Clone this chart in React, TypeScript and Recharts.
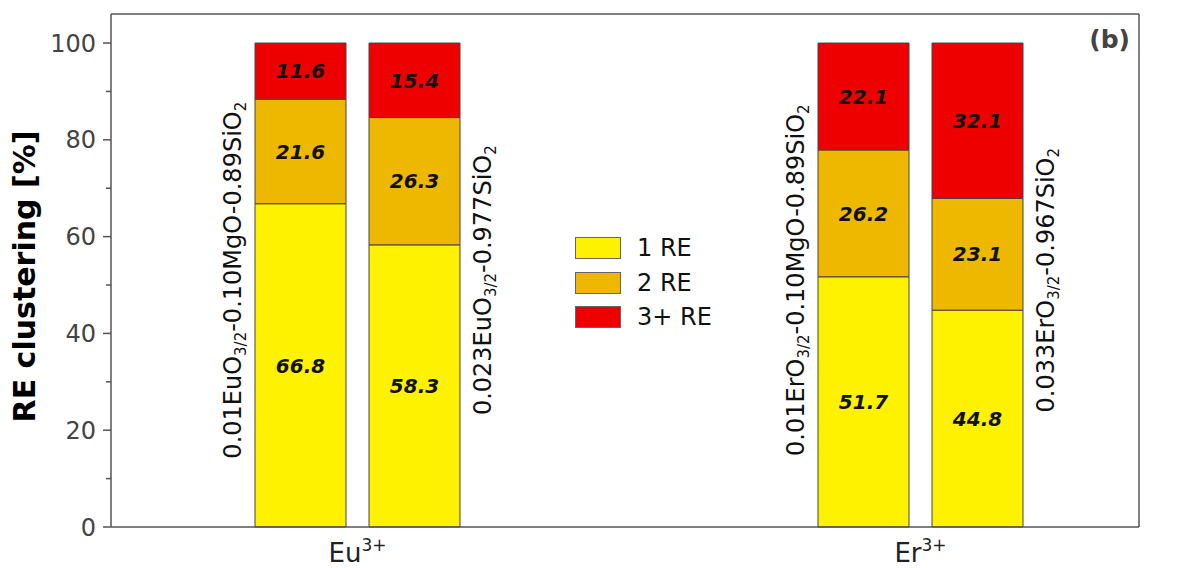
import { BarChart, Bar, XAxis, YAxis, LabelList, Legend, ReferenceLine } from "recharts";

// groups on the x axis and which group each sample belongs to
const groupNames = ["Eu", "Er"];
const groupCharge = "3+";
const sampleGroup = [0, 0, 1, 1];

// sample compositions: plain / subscript / plain / subscript
const sampleLabels = [
  ["0.01EuO", "3/2", "-0.10MgO-0.89SiO", "2"],
  ["0.023EuO", "3/2", "-0.977SiO", "2"],
  ["0.01ErO", "3/2", "-0.10MgO-0.89SiO", "2"],
  ["0.033ErO", "3/2", "-0.967SiO", "2"],
];

// cluster fractions [%] per sample
const oneRE = [66.8, 58.3, 51.7, 44.8];
const twoRE = [21.6, 26.3, 26.2, 23.1];
const threeRE = [11.6, 15.4, 22.1, 32.1];
const seriesNames = ["1 RE", "2 RE", "3+ RE"];

const yTicks = [0, 10, 20, 30, 40, 50, 60, 70, 80, 90, 100];

const COLORS = ["#fff200", "#efb800", "#ee0000"];
const FONT = "'DejaVu Sans', sans-serif";
const AXIS = "#555";
const Y_MAX = 106;
const LABEL_MID = 51; // where the rotated sample names are centred (axis units)
const TICK_SIZE = 8;
const TICK_MARGIN = 7;

const series = [oneRE, twoRE, threeRE];

// one row per group; the two samples of a group go into stacks s0 and s1
const rows = groupNames.map((g, gi) => {
  const row: Record<string, any> = { group: g };
  let slot = 0;
  sampleGroup.forEach((sg, i) => {
    if (sg !== gi) return;
    series.forEach((vals, j) => {
      row[`s${slot}_${j}`] = vals[i];
    });
    row[`sample${slot}`] = i;
    slot++;
  });
  return row;
});

const LeftTick = (p: any) => {
  const { x, y, payload } = p;
  const ax = x + TICK_SIZE + TICK_MARGIN;
  const major = payload.value % 20 === 0;
  return (
    <g>
      <line x1={ax - (major ? TICK_SIZE : 5)} x2={ax} y1={y} y2={y} stroke={AXIS} strokeWidth={1.5} />
      {major && (
        <text x={x} y={y} dy="0.36em" textAnchor="end" fill="#444" fontSize={24} fontFamily={FONT}>
          {payload.value}
        </text>
      )}
    </g>
  );
};

const RightTick = (p: any) => {
  const { x, y, payload } = p;
  const ax = x - TICK_SIZE - TICK_MARGIN;
  const major = payload.value % 20 === 0;
  return (
    <g>
      <line x1={ax} x2={ax + (major ? TICK_SIZE : 5)} y1={y} y2={y} stroke={AXIS} strokeWidth={1.5} />
      {major && (
        <text x={x} y={y} dy="0.36em" textAnchor="start" fill="#444" fontSize={24} fontFamily={FONT}>
          {payload.value}
        </text>
      )}
    </g>
  );
};

const GroupTick = (p: any) => {
  const { x, y, payload } = p;
  return (
    <text x={x} y={y + 35} textAnchor="middle" fill="#222" fontSize={26} fontFamily={FONT}>
      {payload.value}
      <tspan dy={-11} fontSize={17}>
        {groupCharge}
      </tspan>
    </text>
  );
};

const renderValue = (p: any) => {
  const { x, y, width, height, value } = p;
  if (value == null) return null;
  return (
    <text
      x={x + width / 2}
      y={y + height / 2}
      dy="0.36em"
      textAnchor="middle"
      fill="#111"
      fontSize={20}
      fontWeight="bold"
      fontStyle="italic"
      fontFamily={FONT}
    >
      {Number(value).toFixed(1)}
    </text>
  );
};

const renderSample = (slot: number) => (p: any) => {
  const { x, y, width, height, index } = p;
  const row = rows[index];
  const idx = row[`sample${slot}`];
  const segVal = row[`s${slot}_0`];
  const bottom = y + height;
  const cy = bottom - (LABEL_MID * height) / segVal;
  const bx = slot === 0 ? x - 14 : x + width + 31;
  const parts = sampleLabels[idx];
  return (
    <text
      x={bx}
      y={cy}
      transform={`rotate(-90, ${bx}, ${cy})`}
      textAnchor="middle"
      fill="#111"
      fontSize={24}
      fontFamily={FONT}
    >
      <tspan>{parts[0]}</tspan>
      <tspan dy={5} fontSize={15}>
        {parts[1]}
      </tspan>
      <tspan dy={-5}>{parts[2]}</tspan>
      <tspan dy={5} fontSize={15}>
        {parts[3]}
      </tspan>
    </text>
  );
};

const renderTitle = (p: any) => {
  const vb = p.viewBox;
  const cx = vb.x + 35;
  const cy = vb.y + vb.height / 2 + 6;
  return (
    <text
      x={cx}
      y={cy}
      transform={`rotate(-90, ${cx}, ${cy})`}
      textAnchor="middle"
      fill="#000"
      fontSize={30}
      fontWeight="bold"
      fontFamily={FONT}
    >
      RE clustering [%]
    </text>
  );
};

const renderPanel = (p: any) => {
  const vb = p.viewBox;
  return (
    <text
      x={vb.x + vb.width - 9}
      y={vb.y + 34}
      textAnchor="end"
      fill="#444"
      fontSize={25}
      fontWeight="bold"
      fontFamily={FONT}
    >
      (b)
    </text>
  );
};

const renderLegend = () => (
  <div style={{ fontFamily: FONT, fontSize: 24, color: "#111" }}>
    {seriesNames.map((n, i) => (
      <div key={n} style={{ display: "flex", alignItems: "center", height: 34.5 }}>
        <span
          style={{
            display: "inline-block",
            width: 46,
            height: 22,
            background: COLORS[i],
            border: "1px solid #666",
            boxSizing: "border-box",
          }}
        />
        <span style={{ marginLeft: 16 }}>{n}</span>
      </div>
    ))}
  </div>
);

export default function App() {
  return (
    <div style={{ position: "absolute", left: 0, top: 0, background: "#fff" }}>
      <BarChart
        width={1204}
        height={568}
        data={rows}
        margin={{ top: 14, right: 0, bottom: 0, left: 0 }}
        barSize={91}
        barGap={23}
      >
        <XAxis
          dataKey="group"
          height={41}
          padding={{ left: -35, right: -63 }}
          axisLine={{ stroke: AXIS, strokeWidth: 1.5 }}
          tickLine={false}
          tickSize={0}
          tickMargin={0}
          tick={GroupTick}
        />
        <YAxis
          yAxisId="left"
          width={111}
          domain={[0, Y_MAX]}
          ticks={yTicks}
          interval={0}
          axisLine={{ stroke: AXIS, strokeWidth: 1.5 }}
          tickLine={false}
          tickSize={TICK_SIZE}
          tickMargin={TICK_MARGIN}
          tick={LeftTick}
          label={{ value: "RE clustering [%]", content: renderTitle }}
        />
        <YAxis
          yAxisId="right"
          orientation="right"
          width={65}
          domain={[0, Y_MAX]}
          ticks={yTicks}
          interval={0}
          axisLine={{ stroke: AXIS, strokeWidth: 1.5 }}
          tickLine={false}
          tickSize={TICK_SIZE}
          tickMargin={TICK_MARGIN}
          tick={RightTick}
        />
        <ReferenceLine yAxisId="left" y={Y_MAX} stroke={AXIS} strokeWidth={1.5} label={renderPanel} />
        {[0, 1].map((slot) =>
          series.map((_, j) => (
            <Bar
              key={`s${slot}_${j}`}
              yAxisId="left"
              dataKey={`s${slot}_${j}`}
              name={seriesNames[j]}
              stackId={`st${slot}`}
              fill={COLORS[j]}
              stroke="#444"
              strokeWidth={1}
              isAnimationActive={false}
            >
              <LabelList dataKey={`s${slot}_${j}`} content={renderValue} />
              {j === 0 && <LabelList dataKey={`sample${slot}`} content={renderSample(slot)} />}
            </Bar>
          ))
        )}
        <Legend
          layout="vertical"
          align="center"
          verticalAlign="middle"
          content={renderLegend}
          wrapperStyle={{ left: 575, top: 231, width: 170, height: 104 }}
        />
      </BarChart>
    </div>
  );
}
